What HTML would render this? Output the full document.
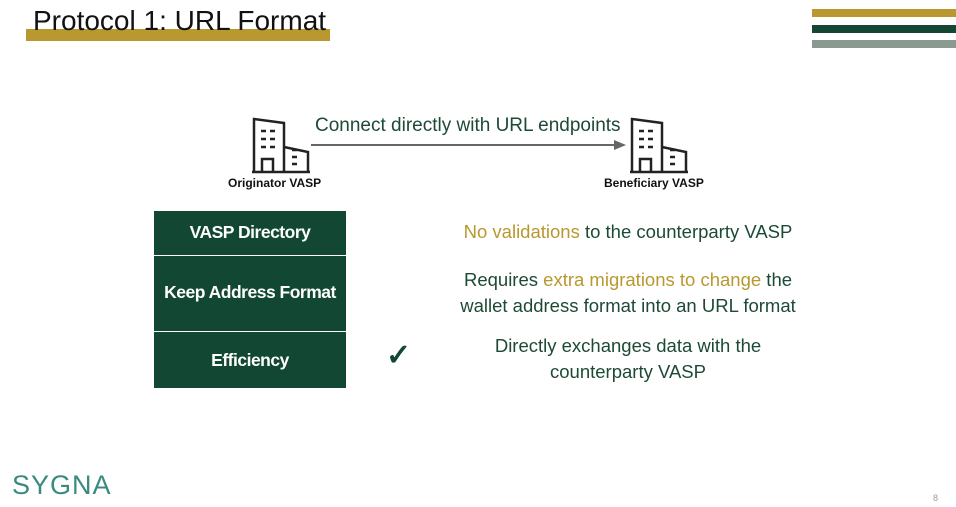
<!DOCTYPE html>
<html><head><style>
body{margin:0;width:956px;height:507px;background:#fff;position:relative;overflow:hidden;font-family:"Liberation Sans",sans-serif}
.a{position:absolute}
.t{position:absolute;font-size:18.5px;color:#1d4a35;text-align:center;width:440px;left:408px;line-height:26px}
.g{color:#b8982f}
.row{position:absolute;left:154px;width:192px;background:#124734;color:#fff;font-size:17.5px;font-weight:bold;text-align:center;letter-spacing:-0.5px}
</style></head><body>
<div class="a" style="left:26px;top:29px;width:304px;height:12px;background:#b8982f"></div>
<div class="a" style="left:33px;top:5px;font-size:28px;color:#111">Protocol 1: URL Format</div>
<div class="a" style="left:812px;top:9px;width:144px;height:8px;background:#b8982f"></div>
<div class="a" style="left:812px;top:25px;width:144px;height:8px;background:#124734"></div>
<div class="a" style="left:812px;top:40px;width:144px;height:8px;background:#8a9a90"></div>

<svg class="a" style="left:0;top:0" width="956" height="507">
<defs><g id="b" fill="none" stroke="#222" stroke-width="2.5">
<path d="M2 55V2l30 4v49M32 30l24 5v20M0 55h58"/>
<path d="M10 56V42h11v14"/>
<path d="M9 14h5M18 14h5M9 22h5M18 22h5M9 30h5M18 30h5M40 40h5M40 47h5M40 33h5"/>
</g></defs>
<use href="#b" x="252" y="117"/>
<use href="#b" x="630" y="117"/>
<line x1="311" y1="145" x2="615" y2="145" stroke="#666" stroke-width="2"/>
<path d="M626 145l-12-5v10z" fill="#666"/>
</svg>
<div class="a" style="left:315px;top:115px;font-size:19px;color:#1d4a35">Connect directly with URL endpoints</div>
<div class="a" style="left:228px;top:176px;font-size:12px;font-weight:bold;color:#111">Originator VASP</div>
<div class="a" style="left:604px;top:176px;font-size:12px;font-weight:bold;color:#111">Beneficiary VASP</div>

<div class="row" style="top:211px;height:44px;line-height:42px">VASP Directory</div>
<div class="row" style="top:256px;height:75px;line-height:73px">Keep Address Format</div>
<div class="row" style="top:332px;height:56px;line-height:56px">Efficiency</div>
<div class="a" style="left:386px;top:338px;font-size:30px;font-weight:bold;color:#124734">✓</div>

<div class="t" style="top:219px"><span class="g">No validations</span> to the counterparty VASP</div>
<div class="t" style="top:267px">Requires <span class="g">extra migrations to change</span> the<br>wallet address format into an URL format</div>
<div class="t" style="top:333px">Directly exchanges data with the<br>counterparty VASP</div>

<div class="a" style="left:12px;top:470px;font-size:27px;color:#3a8a80;letter-spacing:1px">SYGNA</div>
<div class="a" style="left:933px;top:493px;font-size:9px;color:#999">8</div>
</body></html>
